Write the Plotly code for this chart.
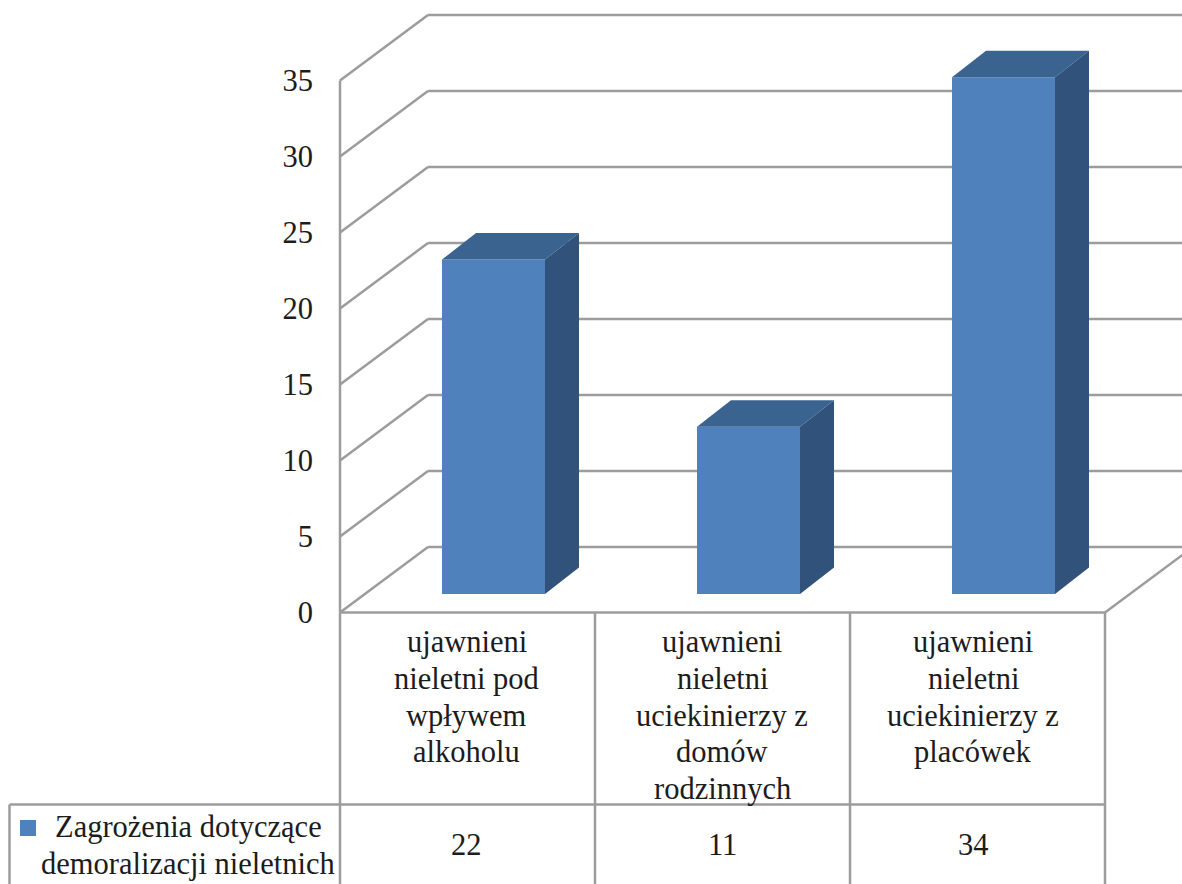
import plotly.graph_objects as go

# ---- data ----
category_lines = [
    ["ujawnieni", "nieletni pod", "wpływem", "alkoholu"],
    ["ujawnieni", "nieletni", "uciekinierzy z", "domów", "rodzinnych"],
    ["ujawnieni", "nieletni", "uciekinierzy z", "placówek"],
]
series_lines = ["Zagrożenia dotyczące", "demoralizacji nieletnich"]
values = [22, 11, 34]
y_ticks = [0, 5, 10, 15, 20, 25, 30, 35]

# ---- geometry (figure pixels <-> axis units) ----
W, H = 1182, 884
X0_PX, CAT_PX = 340.0, 255.0
Y0_PX, UNIT_PX = 612.5, 15.2
def X(px): return (px - X0_PX) / CAT_PX - 0.5
def Y(py): return (Y0_PX - py) / UNIT_PX
def DX(px): return px / CAT_PX
def DY(px): return px / UNIT_PX

WALL_DX, WALL_DY = DX(88), DY(65.5)
BAR_DX, BAR_DY = DX(34), DY(26.5)
BAR_W = DX(103)
BAR_SHIFT, BAR_BASE = DX(26), DY(18.5)

FRONT, TOP, SIDE = "#4F81BD", "#3B638F", "#31527A"
GRID = "#9C9C9C"
TXT = "#1c1c1c"
FONT = "Liberation Serif"
FS = 30.5

xs = list(range(len(values)))
fig = go.Figure()

shapes = []
def seg(x0, y0, x1, y1, layer="below"):
    shapes.append(dict(type="line", xref="x", yref="y", x0=x0, y0=y0, x1=x1, y1=y1,
                       layer=layer, line=dict(color=GRID, width=2.5)))

x_left, x_right = -0.5, len(values) - 0.5
x_edge = X(W)
for t in y_ticks:
    seg(x_left, t, x_left + WALL_DX, t + WALL_DY)
    seg(x_left + WALL_DX, t + WALL_DY, x_edge, t + WALL_DY)
seg(x_left, 0, x_left, y_ticks[-1])
seg(x_left, 0, x_right, 0)
seg(x_right, 0, x_right + WALL_DX, WALL_DY)

# data table grid
row_y = Y(804.5)
bottom = Y(H + 2)
for i in range(len(values) + 1):
    seg(x_left + i, 0, x_left + i, bottom)
seg(X(9.5), row_y, x_right, row_y)
seg(X(9.5), row_y, X(9.5), bottom)

# front faces
fig.add_trace(go.Bar(
    x=[i + BAR_SHIFT for i in xs], y=values, base=BAR_BASE, width=BAR_W,
    marker=dict(color=FRONT, line=dict(width=0)), showlegend=False, hoverinfo="skip",
))
# top and side faces
for i, v in zip(xs, values):
    l = i + BAR_SHIFT - BAR_W / 2
    r = i + BAR_SHIFT + BAR_W / 2
    b = BAR_BASE
    t = BAR_BASE + v
    fig.add_trace(go.Scatter(
        x=[l, r, r + BAR_DX, l + BAR_DX, l], y=[t, t, t + BAR_DY, t + BAR_DY, t],
        mode="lines", fill="toself", fillcolor=TOP, line=dict(width=0),
        showlegend=False, hoverinfo="skip"))
    fig.add_trace(go.Scatter(
        x=[r, r + BAR_DX, r + BAR_DX, r, r], y=[b, b + BAR_DY, t + BAR_DY, t, b],
        mode="lines", fill="toself", fillcolor=SIDE, line=dict(width=0),
        showlegend=False, hoverinfo="skip"))

# legend key
fig.add_trace(go.Scatter(
    x=[X(28)], y=[Y(828)], mode="markers",
    marker=dict(symbol="square", size=16, color=FRONT),
    showlegend=False, hoverinfo="skip"))

annotations = []
def text(x, y, s, anchor="center"):
    annotations.append(dict(x=x, y=y, xref="x", yref="y", text=s, showarrow=False,
                            xanchor=anchor, yanchor="middle",
                            font=dict(family=FONT, size=FS, color=TXT)))

LINE_Y0, LINE_STEP = 642.0, 36.8
label_centres = [466.5, 722.0, 973.0]
for px, lines in zip(label_centres, category_lines):
    for n, line in enumerate(lines):
        text(X(px), Y(LINE_Y0 + n * LINE_STEP), line)
for px, v in zip(label_centres, values):
    text(X(px), Y(845), str(v))
text(X(188), Y(827), series_lines[0])
text(X(188), Y(864), series_lines[1])

fig.update_layout(
    width=W, height=H, margin=dict(l=0, r=0, t=0, b=0, pad=0),
    paper_bgcolor="white", plot_bgcolor="white",
    showlegend=False, shapes=shapes, annotations=annotations,
    xaxis=dict(range=[X(0), X(W)], visible=False, fixedrange=True),
    yaxis=dict(range=[Y(H), Y(0)], anchor="free", position=X0_PX / W,
               tickvals=y_ticks, ticks="", showgrid=False, zeroline=False, showline=False,
               ticklabelstandoff=27, tickfont=dict(family=FONT, size=FS, color=TXT),
               fixedrange=True),
    font=dict(family=FONT),
)
fig.write_html("out.html", config=dict(displayModeBar=False),
               post_script="document.body.style.margin='0';")
